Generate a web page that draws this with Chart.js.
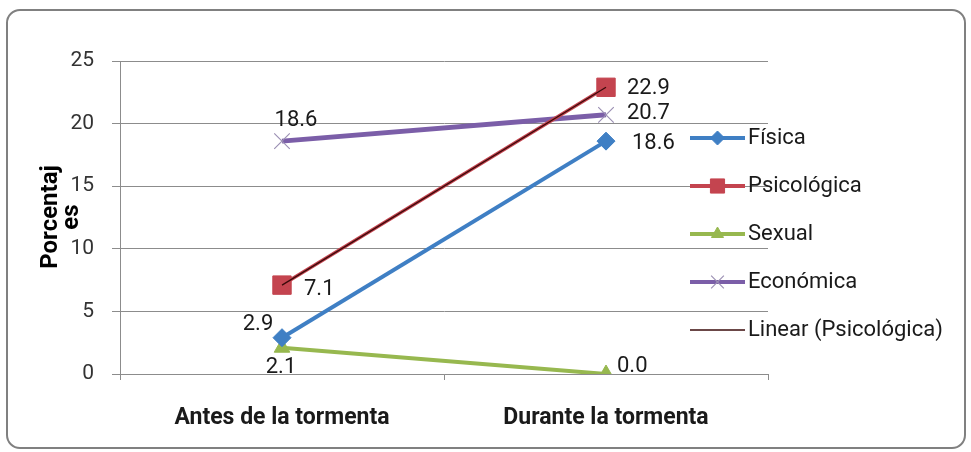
<!DOCTYPE html>
<html>
<head>
<meta charset="utf-8">
<script src="https://cdn.jsdelivr.net/npm/chart.js@4.4.1/dist/chart.umd.min.js"></script>
<style>
  html, body { margin: 0; padding: 0; background: #ffffff; }
  #wrap { position: relative; width: 971px; height: 452px; overflow: hidden; }
  #frame {
    position: absolute; left: 6px; top: 9px; width: 956px; height: 436px;
    border: 2px solid #808080; border-radius: 14px; background: #ffffff;
  }
  #chart { position: absolute; left: 0; top: 0; }
</style>
</head>
<body>
<div id="wrap">
  <div id="frame"></div>
  <canvas id="chart" width="971" height="452"></canvas>
</div>
<script>
// Data
const categories = ['Antes de la tormenta', 'Durante la tormenta'];
const fisica = [2.9, 18.6];
const psicologica = [7.1, 22.9];
const sexual = [2.1, 0.0];
const economica = [18.6, 20.7];
const yTicks = [0, 5, 10, 15, 20, 25];

const FONT = 'Roboto, "Noto Sans", sans-serif';

// Linear trend of Psicológica (least squares over category index)
function linearTrend(values) {
    const n = values.length;
    let sx = 0, sy = 0, sxy = 0, sxx = 0;
    values.forEach((v, i) => { sx += i; sy += v; sxy += i * v; sxx += i * i; });
    const slope = (n * sxy - sx * sy) / (n * sxx - sx * sx);
    const icpt = (sy - slope * sx) / n;
    return values.map((v, i) => icpt + slope * i);
}
const psicoTrend = linearTrend(psicologica);

const series = [
    { label: 'Física', data: fisica, color: '#3F7FC4', style: 'rectRot', radius: 9, legendR: 7, width: 4 },
    { label: 'Psicológica', data: psicologica, color: '#C4444F', style: 'rect', radius: 13, legendR: 10, width: 3.5 },
    { label: 'Sexual', data: sexual, color: '#97B84F', style: 'triangle', radius: 9, legendR: 7, width: 4 },
    { label: 'Económica', data: economica, color: '#7B5EA8', style: 'crossRot', radius: 11, legendR: 9, width: 5 },
];

// offsets of the value labels relative to each point [dx, dy, align]
const labelOffsets = [
    [[-24, -13, 'center'], [26, 2, 'left']],
    [[22, 4, 'left'], [21, 1, 'left']],
    [[-1, 20, 'center'], [11, -8, 'left']],
    [[14, -21, 'center'], [21, -1, 'left']],
];

const datasets = series.map(s => ({
    label: s.label,
    data: s.data,
    borderColor: s.color,
    backgroundColor: s.color,
    borderWidth: s.width,
    pointStyle: s.style,
    pointRadius: s.radius,
    pointBorderColor: s.style === 'crossRot' ? '#9c90b4' : s.color,
    pointBorderWidth: s.style === 'crossRot' ? 1.2 : 1,
    legendR: s.legendR,
    tension: 0,
    order: 1,
}));
datasets.push({
    label: 'Linear (Psicológica)',
    data: psicoTrend,
    borderColor: '#3a0a0a',
    borderWidth: 1.3,
    pointRadius: 0,
    tension: 0,
    order: -1,
});

const valueLabels = {
    id: 'valueLabels',
    afterDatasetsDraw(chart) {
        const ctx = chart.ctx;
        ctx.save();
        ctx.font = '22px ' + FONT;
        ctx.fillStyle = '#1a1a1a';
        ctx.textBaseline = 'middle';
        series.forEach((s, di) => {
            const meta = chart.getDatasetMeta(di);
            meta.data.forEach((pt, i) => {
                const [dx, dy, align] = labelOffsets[di][i];
                ctx.textAlign = align;
                ctx.fillText(s.data[i].toFixed(1), pt.x + dx, pt.y + dy);
            });
        });
        ctx.restore();
    }
};

const sideLegend = {
    id: 'sideLegend',
    afterDatasetsDraw(chart) {
        const ctx = chart.ctx;
        const x0 = 690, x1 = 745, top = 138, step = 48;
        ctx.save();
        ctx.font = '22px ' + FONT;
        ctx.textBaseline = 'middle';
        ctx.textAlign = 'left';
        chart.data.datasets.forEach((ds, i) => {
            const y = top + i * step;
            ctx.strokeStyle = ds.borderColor;
            ctx.lineWidth = ds.pointRadius ? 4 : 1.3;
            ctx.beginPath();
            ctx.moveTo(x0, y);
            ctx.lineTo(x1, y);
            ctx.stroke();
            if (ds.pointRadius) {
                ctx.fillStyle = ds.backgroundColor;
                ctx.strokeStyle = ds.pointBorderColor;
                ctx.lineWidth = ds.pointBorderWidth;
                Chart.helpers.drawPoint(ctx, {
                    pointStyle: ds.pointStyle, radius: ds.legendR, rotation: 0, borderWidth: ds.pointBorderWidth
                }, (x0 + x1) / 2, y);
            }
            ctx.fillStyle = '#1a1a1a';
            ctx.fillText(ds.label, x1 + 3, y);
        });
        ctx.restore();
    }
};

const yTitle = {
    id: 'yTitle',
    afterDraw(chart) {
        const ctx = chart.ctx;
        ctx.save();
        ctx.translate(61, 217);
        ctx.rotate(-Math.PI / 2);
        ctx.font = 'bold 24px ' + FONT;
        ctx.fillStyle = '#000';
        ctx.textAlign = 'center';
        ctx.textBaseline = 'middle';
        ctx.fillText('Porcentaj', 0, -10);
        ctx.fillText('es', 0, 11);
        ctx.restore();
    }
};

new Chart(document.getElementById('chart'), {
    type: 'line',
    data: { labels: categories, datasets: datasets },
    options: {
        responsive: false,
        animation: false,
        devicePixelRatio: 1,
        layout: { padding: { top: 61, right: 203, left: 0, bottom: 0 } },
        plugins: { legend: { display: false }, tooltip: { enabled: false } },
        scales: {
            x: {
                offset: true,
                grid: { offset: true, drawOnChartArea: false, drawTicks: true, tickLength: 6, color: '#8c8c8c' },
                border: { color: '#8c8c8c', width: 1 },
                ticks: { font: { family: FONT, size: 23, weight: 'bold' }, color: '#1a1a1a', padding: 24 },
                afterFit(scale) { scale.height = 78; },
            },
            y: {
                min: 0,
                max: 25,
                afterBuildTicks(scale) { scale.ticks = yTicks.map(v => ({ value: v })); },
                grid: { color: '#8c8c8c', tickLength: 8 },
                border: { color: '#8c8c8c', width: 1 },
                ticks: { font: { family: FONT, size: 21 }, color: '#333', padding: 18 },
                afterFit(scale) { scale.width = 120; },
            },
        },
    },
    plugins: [valueLabels, sideLegend, yTitle],
});
</script>
</body>
</html>
